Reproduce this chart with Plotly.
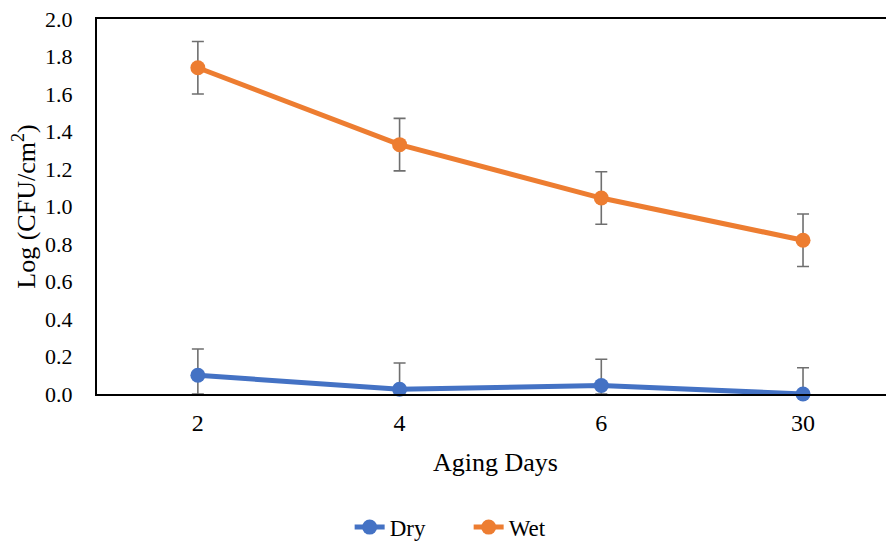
import numpy as np
import plotly.graph_objects as go

days = ["2", "4", "6", "30"]
dry = [0.10, 0.025, 0.045, 0.0]
wet = [1.74, 1.33, 1.045, 0.82]
dry_err = [0.14, 0.14, 0.14, 0.14]
wet_err = [0.14, 0.14, 0.14, 0.14]
y_ticks = [0.0, 0.2, 0.4, 0.6, 0.8, 1.0, 1.2, 1.4, 1.6, 1.8, 2.0]

BLUE = "#4472C4"
ORANGE = "#ED7D31"
ERR = "#6f6f6f"
FONT = "Liberation Serif, Times New Roman, serif"

fig = go.Figure()
# lower error limited by the axis at 0 (as drawn in the reference)
dry_minus = list(np.minimum(np.array(dry_err), np.array(dry)))
fig.add_trace(go.Scatter(
    x=days, y=dry, name="Dry", mode="lines+markers",
    line=dict(color=BLUE, width=5), marker=dict(size=15, color=BLUE),
    error_y=dict(type="data", array=dry_err, arrayminus=dry_minus, symmetric=False,
                 color=ERR, thickness=1.6, width=6),
    cliponaxis=False))
fig.add_trace(go.Scatter(
    x=days, y=wet, name="Wet", mode="lines+markers",
    line=dict(color=ORANGE, width=5), marker=dict(size=15, color=ORANGE),
    error_y=dict(type="data", array=wet_err, color=ERR, thickness=1.6, width=6),
    cliponaxis=False))

fig.update_layout(
    width=886, height=535,
    margin=dict(l=89, r=0, t=11, b=149, autoexpand=False),
    paper_bgcolor="white", plot_bgcolor="white",
    font=dict(family=FONT, size=22, color="black"),
    showlegend=True,
    legend=dict(orientation="h", x=0.317, xanchor="left", y=-0.355, yanchor="middle",
                font=dict(family=FONT, size=23), entrywidth=74),
    xaxis=dict(type="category", range=[-0.5, 3.451], showgrid=False,
               showline=True, linecolor="black", linewidth=2, mirror=True,
               ticks="outside", ticklen=6, tickcolor="rgba(0,0,0,0)",
               tickfont=dict(family=FONT, size=24),
               title=dict(text="Aging Days", font=dict(family=FONT, size=26), standoff=18),
               zeroline=False),
    yaxis=dict(range=[0, 2.0], tickmode="array", tickvals=y_ticks,
               ticktext=[f"{v:.1f}" for v in y_ticks], showgrid=False,
               showline=True, linecolor="black", linewidth=2, mirror=False,
               ticks="outside", ticklen=18, tickcolor="rgba(0,0,0,0)",
               tickfont=dict(family=FONT, size=22), ticklabeloverflow="allow",
               title=dict(text="Log (CFU/cm<sup>2</sup>)", font=dict(family=FONT, size=26), standoff=8),
               zeroline=False),
)

fig.write_html("out.html")
